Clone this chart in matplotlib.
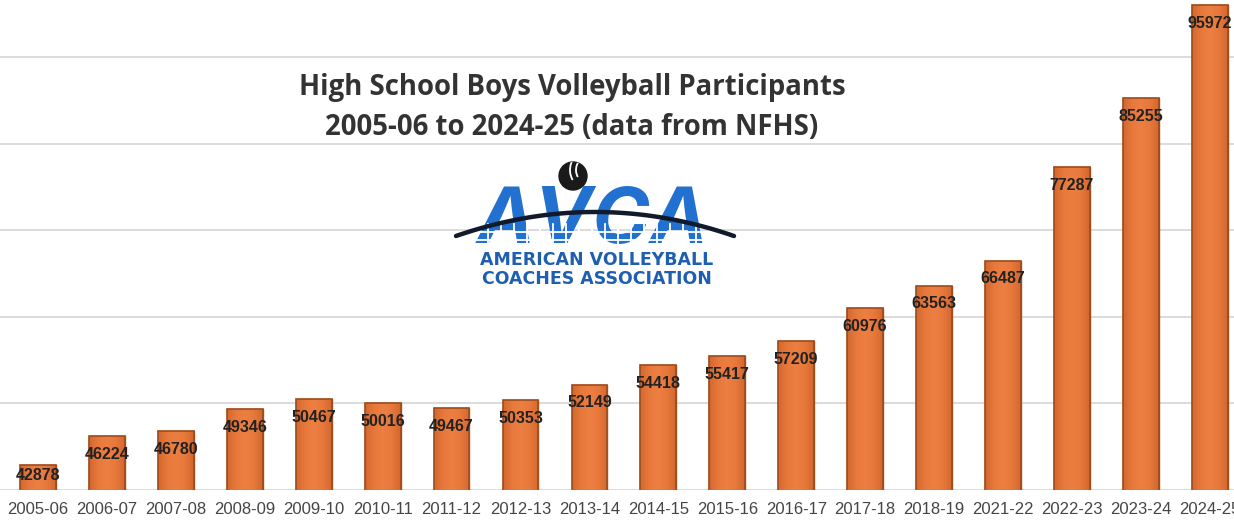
import numpy as np
import matplotlib
matplotlib.use("Agg")
import matplotlib.pyplot as plt
from matplotlib.colors import LinearSegmentedColormap
from matplotlib.patches import Circle, Arc

seasons = ["2005-06", "2006-07", "2007-08", "2008-09", "2009-10", "2010-11",
           "2011-12", "2012-13", "2013-14", "2014-15", "2015-16", "2016-17",
           "2017-18", "2018-19", "2021-22", "2022-23", "2023-24", "2024-25"]
participants = [42878, 46224, 46780, 49346, 50467, 50016, 49467, 50353, 52149,
                54418, 55417, 57209, 60976, 63563, 66487, 77287, 85255, 95972]
title_lines = ["High School Boys Volleyball Participants",
               "2005-06 to 2024-25 (data from NFHS)"]

plt.rcParams['font.family'] = ['Open Sans', 'DejaVu Sans']

W, H = 1234, 523
fig = plt.figure(figsize=(W / 100, H / 100), dpi=100)
fig.patch.set_facecolor('white')
ax = fig.add_axes([0, 33 / H, 1, 1 - 33 / H])
ax.set_facecolor('white')

x = np.arange(len(seasons))
XL = (-0.55, len(seasons) - 1 + 0.35)
YL = (40000, 96580)

ax.set_yticks(np.arange(40000, 100000, 10000))
ax.yaxis.grid(True, color='#dcdcdc', lw=1.4)
ax.set_axisbelow(True)
ax.tick_params(axis='y', left=False, labelleft=False)
for s in ax.spines.values():
    s.set_visible(False)

bars = ax.bar(x, participants, width=0.52, bottom=0, color='#E8773A',
              edgecolor='#A9521F', linewidth=1.0, zorder=2)
cmap = LinearSegmentedColormap.from_list(
    'bar', ['#D2682F', '#E8783B', '#EC7F42', '#E8783B', '#D2682F'])
grad = np.linspace(0, 1, 64).reshape(1, -1)
for b in bars:
    x0 = b.get_x()
    x1 = x0 + b.get_width()
    im = ax.imshow(grad, extent=[x0, x1, 40000, b.get_height()],
                   aspect='auto', cmap=cmap, zorder=2.5, interpolation='bicubic')
    im.set_clip_path(b)
    ax.add_patch(plt.Rectangle((x0, 0), b.get_width(), b.get_height(),
                               fill=False, edgecolor='#9E4C1D', lw=1.2, zorder=3))
ax.set_xlim(*XL)
ax.set_ylim(*YL)

for i, v in enumerate(participants):
    off = -7.5 if i == 0 else -13
    ax.annotate(f"{v}", (i, v), xytext=(0, off), textcoords='offset points',
                ha='center', va='center', fontsize=11.5, fontweight='bold',
                color='#222222', zorder=4,
                family=['Liberation Sans', 'DejaVu Sans'])

ax.set_xticks(x)
ax.set_xticklabels(seasons, fontsize=12, color='#454545',
                   family=['Liberation Sans', 'DejaVu Sans'])
ax.tick_params(axis='x', length=0, pad=9)

# Title
for ln, yy in zip(title_lines, [87, 127]):
    fig.text(572 / W, 1 - yy / H, ln, ha='center', va='center',
             fontsize=19.8, fontweight='bold', color='#333333')

# Logo (approximation)
lax = fig.add_axes([0, 0, 1, 1], facecolor='none')
lax.set_xlim(0, W)
lax.set_ylim(H, 0)
lax.axis('off')
ball = Circle((573, 176), 14, facecolor='#1a1a1a', edgecolor='#1a1a1a', zorder=5)
lax.add_patch(ball)
for (cx, cy, r, t1, t2) in [(560, 160, 16, 290, 360), (560, 160, 22, 290, 360),
                            (590, 170, 14, 150, 250), (590, 170, 20, 150, 250),
                            (575, 195, 15, 40, 140), (575, 195, 22, 40, 140)]:
    a = Arc((cx, cy), 2 * r, 2 * r, theta1=t1, theta2=t2, color='white',
            lw=1.3, zorder=6)
    lax.add_patch(a)
    a.set_clip_path(ball)
lax.text(593, 222, "AVCA", ha='center', va='center', fontsize=56,
         fontweight='bold', style='italic', color='#2270D0', zorder=5,
         family=['Inter', 'DejaVu Sans'])
for yy in [232, 240]:
    lax.plot([470, 720], [yy, yy], color='white', lw=1.3, zorder=6)
for xx in np.arange(488, 720, 13):
    lax.plot([xx, xx], [224, 250], color='white', lw=1.3, zorder=6)
t = np.linspace(-1, 1, 100)
arc_x = 456 + (t + 1) / 2 * (734 - 456)
arc_y = 236 - 24 * (1 - t ** 2)
lax.plot(arc_x, arc_y, color='#111a2a', lw=3.2, zorder=7, solid_capstyle='round')
lax.text(597, 260, "AMERICAN VOLLEYBALL", ha='center', va='center', fontsize=12.5,
         fontweight='bold', color='#1F5FAF', zorder=5,
         family=['DejaVu Sans'])
lax.text(597, 279, "COACHES ASSOCIATION", ha='center', va='center', fontsize=12.5,
         fontweight='bold', color='#1F5FAF', zorder=5,
         family=['DejaVu Sans'])

fig.savefig('out.png', dpi=100, facecolor='white')
